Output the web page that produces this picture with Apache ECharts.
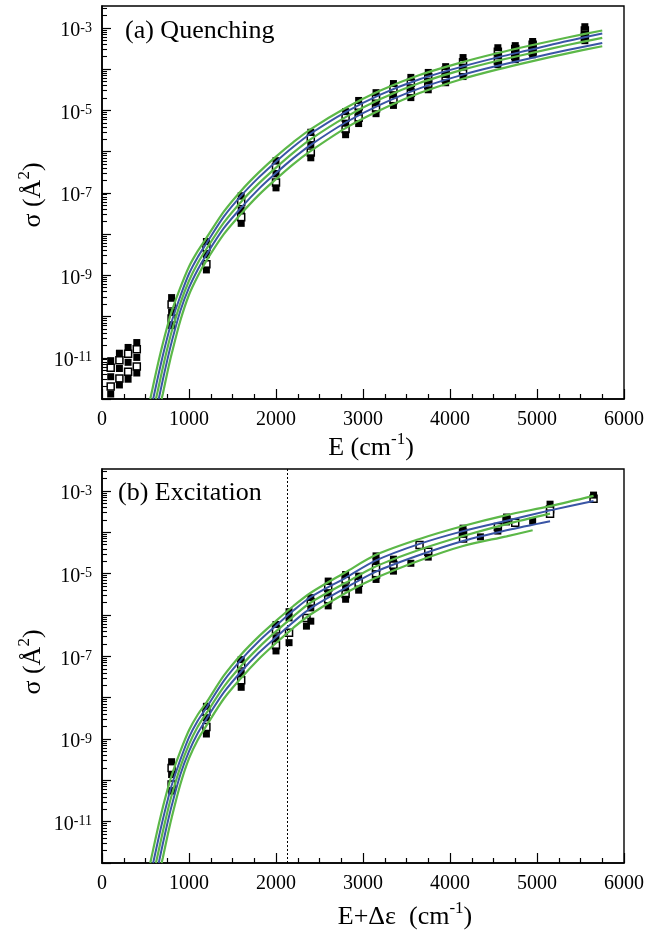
<!DOCTYPE html>
<html><head><meta charset="utf-8">
<script src="https://cdn.jsdelivr.net/npm/echarts@6/dist/echarts.min.js"></script>
<style>html,body{margin:0;padding:0;background:#fff}#c{width:647px;height:931px}</style>
</head><body><div id="c"></div>
<script>
// ---------- DATA ----------
// Axis ranges
const xMin = 0, xMax = 6000, xStep = 1000;
const yMinSigma = 1e-12, yMaxSigma = 3.4e-3;
const labelExps = [-11, -9, -7, -5, -3];
const decadeExps = [-12, -11, -10, -9, -8, -7, -6, -5, -4, -3];

// (a) Quenching: energies and 5 cross sections per energy (top to bottom: filled, open, filled, open, filled)
const qX = [100, 200, 300, 400, 800, 1200, 1600, 2000, 2400, 2800, 2950, 3150, 3350, 3550, 3750, 3950, 4150, 4550, 4750, 4950, 5550];
const qSigma = [
  [8.5e-12, 5.75e-12, 3.47e-12, 2.0e-12, 1.32e-12],
  [1.29e-11, 8.71e-12, 5.5e-12, 3.16e-12, 2.19e-12],
  [1.78e-11, 1.26e-11, 7.76e-12, 4.57e-12, 3.02e-12],
  [2.34e-11, 1.62e-11, 1.02e-11, 6.17e-12, 4.27e-12],
  [2.88e-10, 1.95e-10, 1.26e-10, 8.91e-11, 6.03e-11],
  [6.61e-9, 4.79e-9, 3.16e-9, 1.86e-9, 1.35e-9],
  [8.51e-8, 5.89e-8, 3.80e-8, 2.57e-8, 1.82e-8],
  [6.03e-7, 4.17e-7, 2.88e-7, 1.78e-7, 1.32e-7],
  [2.95e-6, 2.04e-6, 1.48e-6, 9.55e-7, 7.08e-7],
  [9.33e-6, 6.76e-6, 4.90e-6, 3.55e-6, 2.57e-6],
  [1.74e-5, 1.26e-5, 9.12e-6, 6.61e-6, 4.79e-6],
  [2.69e-5, 2.0e-5, 1.51e-5, 1.12e-5, 8.32e-6],
  [4.47e-5, 3.31e-5, 2.40e-5, 1.78e-5, 1.32e-5],
  [6.31e-5, 4.68e-5, 3.55e-5, 2.69e-5, 2.04e-5],
  [8.32e-5, 6.46e-5, 5.13e-5, 4.07e-5, 3.16e-5],
  [1.15e-4, 9.33e-5, 7.41e-5, 5.89e-5, 4.68e-5],
  [1.91e-4, 1.48e-4, 1.12e-4, 8.71e-5, 6.61e-5],
  [3.31e-4, 2.63e-4, 2.09e-4, 1.62e-4, 1.29e-4],
  [3.72e-4, 3.09e-4, 2.51e-4, 2.09e-4, 1.70e-4],
  [4.68e-4, 3.89e-4, 3.24e-4, 2.69e-4, 2.24e-4],
  [1.07e-3, 8.71e-4, 7.24e-4, 6.03e-4, 4.90e-4]
];
const qOpenIdx = [1, 3];

// (a) fitted curves [E, sigma]
const qG1 = [[555,1e-12],[600,2.77e-12],[650,8.22e-12],[700,2.25e-11],[750,5.65e-11],[800,1.31e-10],[900,5.0e-10],[1000,1.62e-9],[1100,3.85e-9],[1200,8.04e-9],[1400,3.50e-8],[1600,1.13e-7],[1800,3.09e-7],[2000,7.57e-7],[2200,1.70e-6],[2400,3.52e-6],[2800,1.14e-5],[3200,3.03e-5],[3650,7.19e-5],[4150,1.49e-4],[4550,2.46e-4],[4950,3.85e-4],[5350,5.85e-4],[5750,8.65e-4]];
const qB1 = [[588,1e-12],[650,3.98e-12],[700,1.15e-11],[750,3.05e-11],[800,7.48e-11],[900,3.11e-10],[1000,1.09e-9],[1100,2.75e-9],[1200,5.92e-9],[1400,2.64e-8],[1600,8.55e-8],[1800,2.34e-7],[2000,5.71e-7],[2200,1.31e-6],[2400,2.75e-6],[2800,9.10e-6],[3200,2.42e-5],[3650,5.69e-5],[4150,1.17e-4],[4550,1.93e-4],[4950,3.03e-4],[5350,4.81e-4],[5750,7.31e-4]];
const qG2 = [[620,1e-12],[650,1.92e-12],[700,5.87e-12],[750,1.65e-11],[800,4.28e-11],[900,2.09e-10],[1000,7.40e-10],[1100,1.97e-9],[1200,4.35e-9],[1400,1.89e-8],[1600,6.11e-8],[1800,1.67e-7],[2000,4.09e-7],[2200,9.46e-7],[2400,2.01e-6],[2800,6.87e-6],[3200,1.88e-5],[3650,4.60e-5],[4150,9.73e-5],[4550,1.60e-4],[4950,2.50e-4],[5350,3.85e-4],[5750,5.71e-4]];
const qB2 = [[652,1e-12],[700,2.96e-12],[750,8.75e-12],[800,2.38e-11],[900,1.36e-10],[1000,5.0e-10],[1100,1.37e-9],[1200,3.16e-9],[1400,1.39e-8],[1600,4.38e-8],[1800,1.23e-7],[2000,3.01e-7],[2200,6.95e-7],[2400,1.46e-6],[2800,5.08e-6],[3200,1.38e-5],[3650,3.42e-5],[4150,7.36e-5],[4550,1.21e-4],[4950,1.89e-4],[5350,2.91e-4],[5750,4.33e-4]];
const qG3 = [[685,1e-12],[700,1.36e-12],[750,4.28e-12],[800,1.23e-11],[900,7.91e-11],[1000,3.38e-10],[1100,9.51e-10],[1200,2.26e-9],[1400,9.95e-9],[1600,3.13e-8],[1800,8.79e-8],[2000,2.15e-7],[2200,4.98e-7],[2400,1.04e-6],[2800,3.72e-6],[3200,1.02e-5],[3650,2.63e-5],[4150,5.87e-5],[4550,9.89e-5],[4950,1.57e-4],[5350,2.42e-4],[5750,3.60e-4]];

// (b) Excitation: energies, filled and open cross sections
const exX = [800,1200,1600,2000,2150,2350,2400,2600,2800,2950,3150,3350,3550,3650,3750,4150,4350,4550,4650,4750,4950,5150,5650];
const exFilled = [[2.82e-10,1.38e-10,5.50e-11],[6.17e-9,3.24e-9,1.32e-9],[8.32e-8,3.98e-8,1.78e-8],[5.89e-7,2.82e-7,1.35e-7],[1.20e-6,8.51e-7,2.14e-7],[5.37e-7],[2.63e-6,1.48e-6,7.08e-7],[6.61e-6,3.47e-6,1.66e-6],[9.55e-6,4.57e-6,2.40e-6],[8.71e-6,3.98e-6],[2.69e-5,2.04e-5,7.24e-6],[2.24e-5,1.15e-5],[1.78e-5],[],[2.51e-5],[1.26e-4,8.91e-5],[7.76e-5],[1.07e-4],[2.34e-4,1.78e-4],[],[1.86e-4],[4.79e-4],[7.94e-4]];
const exOpen = [[2.0e-10,7.94e-11],[4.57e-9,1.95e-9],[6.31e-8,2.63e-8],[4.47e-7,1.86e-7],[3.72e-7],[8.51e-7],[2.0e-6],[4.57e-6,2.40e-6],[7.24e-6,3.24e-6],[6.03e-6],[1.38e-5,9.55e-6],[1.62e-5],[],[4.90e-5],[3.39e-5],[9.77e-5,7.08e-5],[],[1.35e-4],[2.0e-4],[1.70e-4],[],[3.63e-4,2.82e-4],[6.46e-4]];

// (b) fitted curves [E+de, sigma]
const bG1 = [[555,1e-12],[600,2.77e-12],[650,8.22e-12],[700,2.25e-11],[750,5.65e-11],[800,1.31e-10],[900,5.0e-10],[1000,1.62e-9],[1100,3.85e-9],[1200,7.6e-9],[1400,3.4e-8],[1600,1.11e-7],[1800,3.0e-7],[2000,7.2e-7],[2200,1.65e-6],[2400,3.45e-6],[2800,1.08e-5],[3150,2.85e-5],[3650,6.9e-5],[4150,1.42e-4],[4650,2.6e-4],[5150,4.3e-4],[5650,7.6e-4]];
const bB1 = [[588,1e-12],[650,3.98e-12],[700,1.15e-11],[750,3.05e-11],[800,7.48e-11],[900,3.11e-10],[1000,1.09e-9],[1100,2.75e-9],[1200,5.7e-9],[1400,2.55e-8],[1600,8.3e-8],[1800,2.28e-7],[2000,5.5e-7],[2200,1.28e-6],[2400,2.72e-6],[2800,7.95e-6],[3150,2.09e-5],[3650,5.25e-5],[4150,1.07e-4],[4650,1.91e-4],[5150,3.39e-4],[5650,5.75e-4]];
const bG2 = [[620,1e-12],[650,1.92e-12],[700,5.87e-12],[750,1.65e-11],[800,4.28e-11],[900,2.09e-10],[1000,7.40e-10],[1100,1.97e-9],[1200,4.2e-9],[1400,1.82e-8],[1600,5.9e-8],[1800,1.62e-7],[2000,4.0e-7],[2200,9.3e-7],[2400,2.0e-6],[2800,6.0e-6],[3150,1.51e-5],[3650,3.8e-5],[4150,8.13e-5],[4650,1.58e-4],[5150,2.82e-4]];
const bB2 = [[652,1e-12],[700,2.96e-12],[750,8.75e-12],[800,2.38e-11],[900,1.36e-10],[1000,5.0e-10],[1100,1.37e-9],[1200,3.05e-9],[1400,1.34e-8],[1600,4.3e-8],[1800,1.2e-7],[2000,2.9e-7],[2200,6.8e-7],[2400,1.46e-6],[2800,4.5e-6],[3150,1.12e-5],[3650,2.82e-5],[4150,6.17e-5],[4650,1.12e-4],[5150,1.86e-4]];
const bG3 = [[685,1e-12],[700,1.36e-12],[750,4.28e-12],[800,1.23e-11],[900,7.91e-11],[1000,3.38e-10],[1100,9.51e-10],[1200,2.1e-9],[1400,9.4e-9],[1600,3.0e-8],[1800,8.5e-8],[2000,2.1e-7],[2200,4.9e-7],[2400,1.04e-6],[2800,3.4e-6],[3150,7.94e-6],[3650,2.09e-5],[4150,4.68e-5],[4650,8.0e-5],[4950,1.12e-4]];

// threshold marker in (b)
const thresholdE = 2130;

// ---------- CHART ----------
const FONT = 'Liberation Serif';
const GREEN = '#5cb848', BLUE = '#3a55a5';
const L = Math.log10;
const yMinL = L(yMinSigma), yMaxL = L(yMaxSigma);
const minorTicks = [];
decadeExps.forEach(e => { for (let k = 2; k <= 9; k++) { const v = e + L(k); if (v < yMaxL) minorTicks.push(v); } });

const pts = arr => arr.map(p => [p[0], L(p[1])]);
const qFilledPts = [], qOpenPts = [];
qX.forEach((x, i) => qSigma[i].forEach((s, j) => (qOpenIdx.includes(j) ? qOpenPts : qFilledPts).push([x, L(s)])));
const eFilledPts = [], eOpenPts = [];
exX.forEach((x, i) => { exFilled[i].forEach(s => eFilledPts.push([x, L(s)])); exOpen[i].forEach(s => eOpenPts.push([x, L(s)])); });

const grids = [
  { left: 102, top: 6, width: 523, height: 393 },
  { left: 102, top: 469, width: 523, height: 394 }
];

function xAxisFor(g) {
  return {
    gridIndex: g, type: 'value', min: xMin, max: xMax, interval: xStep,
    axisLine: { lineStyle: { color: '#000', width: 1.6 } },
    axisTick: { inside: true, length: 10, lineStyle: { color: '#000', width: 1.2 } },
    minorTick: { show: true, splitNumber: 4, length: 5, lineStyle: { color: '#000', width: 1.2 } },
    axisLabel: { margin: 11, color: '#000', fontFamily: FONT, fontSize: 20, formatter: v => String(v) },
    splitLine: { show: false }, minorSplitLine: { show: false }
  };
}
function yAxesFor(g) {
  return [{
    gridIndex: g, type: 'value', position: 'left', min: yMinL, max: yMaxL,
    axisLine: { lineStyle: { color: '#000', width: 1.6 } },
    axisTick: { inside: true, length: 9, customValues: decadeExps, lineStyle: { color: '#000', width: 1.2 } },
    axisLabel: {
      customValues: labelExps, margin: 10,
      formatter: v => '{b|10}{s|' + Math.round(v) + '}',
      rich: {
        b: { fontFamily: FONT, fontSize: 20, lineHeight: 26, padding: [8, 0, 0, 0], verticalAlign: 'bottom', color: '#000' },
        s: { fontFamily: FONT, fontSize: 14, lineHeight: 14, padding: [6, 0, 0, 0], verticalAlign: 'top', color: '#000' }
      }
    },
    splitLine: { show: false }
  }, {
    gridIndex: g, type: 'value', position: 'left', offset: 0, min: yMinL, max: yMaxL,
    axisLine: { show: false },
    axisTick: { inside: true, length: 5, customValues: minorTicks, lineStyle: { color: '#000', width: 1.1 } },
    axisLabel: { show: false }, splitLine: { show: false }
  }];
}

function scatter(data, g, open) {
  return {
    type: 'scatter', xAxisIndex: g, yAxisIndex: g * 2, data, symbol: 'rect', symbolSize: 7, z: open ? 2 : 3,
    itemStyle: open ? { color: '#fff', borderColor: '#000', borderWidth: 1.5, opacity: 1 } : { color: '#000', opacity: 1 },
    silent: true
  };
}
function curve(data, g, color) {
  return {
    type: 'line', xAxisIndex: g, yAxisIndex: g * 2, data: pts(data), showSymbol: false, smooth: 0.3,
    lineStyle: { color, width: color === GREEN ? 2.2 : 2 }, z: 5, silent: true, clip: true
  };
}

const series = [
  scatter(qOpenPts, 0, true), scatter(qFilledPts, 0, false),
  curve(qG1, 0, GREEN), curve(qB1, 0, BLUE), curve(qG2, 0, GREEN), curve(qB2, 0, BLUE), curve(qG3, 0, GREEN),
  scatter(eOpenPts, 1, true), scatter(eFilledPts, 1, false),
  curve(bG1, 1, GREEN), curve(bB1, 1, BLUE), curve(bG2, 1, GREEN), curve(bB2, 1, BLUE), curve(bG3, 1, GREEN)
];
series[9].markLine = {
  silent: true, symbol: 'none', label: { show: false },
  lineStyle: { color: '#000', width: 1, type: [2, 2] },
  data: [{ xAxis: thresholdE }]
};

const titleRich = {
  n: { fontFamily: FONT, fontSize: 26, lineHeight: 30, verticalAlign: 'bottom', fill: '#000', color: '#000' },
  s: { fontFamily: FONT, fontSize: 17, lineHeight: 18, verticalAlign: 'top', fill: '#000', color: '#000' }
};
function gtext(x, y, text, rot, align) {
  return {
    type: 'text', x, y, rotation: rot || 0, silent: true,
    style: { text, rich: titleRich, align: align || 'center', textAlign: align || 'center', verticalAlign: 'middle', textVerticalAlign: 'middle', fill: '#000' }
  };
}

const chart = echarts.init(document.getElementById('c'), null, { renderer: 'canvas' });
chart.setOption({
  animation: false,
  backgroundColor: '#fff',
  grid: grids.map(g => Object.assign({ show: true, borderColor: '#000', borderWidth: 1.4, containLabel: false }, g)),
  xAxis: [xAxisFor(0), xAxisFor(1)],
  yAxis: [...yAxesFor(0), ...yAxesFor(1)],
  series,
  graphic: [
    gtext(125, 29, '{n|(a) Quenching}', 0, 'left'),
    gtext(118, 491, '{n|(b) Excitation}', 0, 'left'),
    gtext(371, 446, '{n|E (cm}{s|-1}{n|)}'),
    gtext(405, 915, '{n|E+\u0394\u03b5  (cm}{s|-1}{n|)}'),
    gtext(31, 195, '{n|\u03c3 (\u00c5}{s|2}{n|)}', Math.PI / 2),
    gtext(31, 662, '{n|\u03c3 (\u00c5}{s|2}{n|)}', Math.PI / 2)
  ]
});
</script></body></html>
